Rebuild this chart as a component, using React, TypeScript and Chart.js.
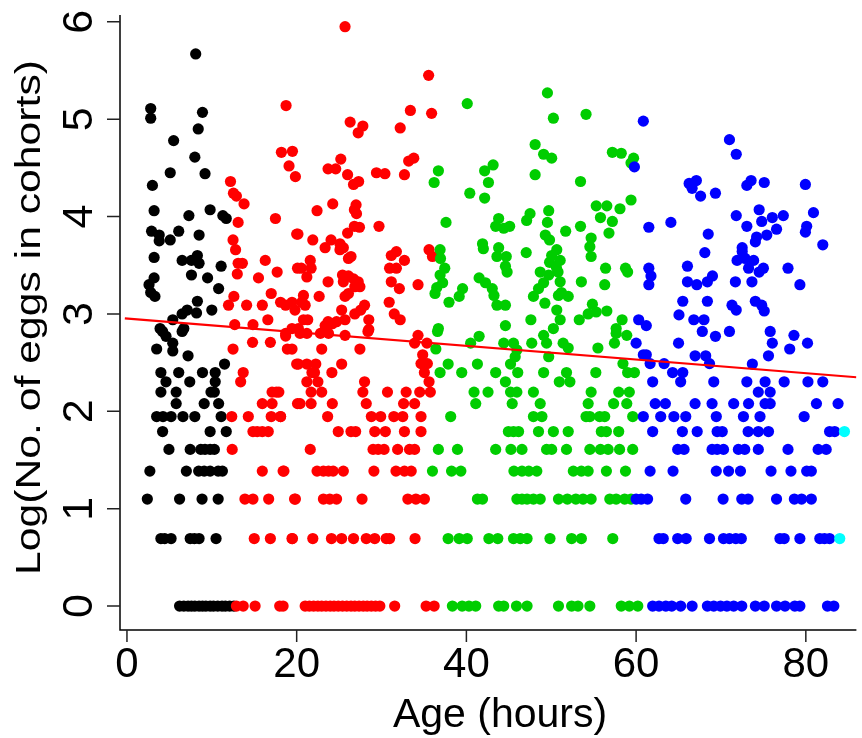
import React, { useEffect, useRef } from 'react';
import { Chart, registerables } from 'chart.js';

Chart.register(...registerables);

// ---- Axis text ----
const X_TICKS = [0, 20, 40, 60, 80];
const Y_TICKS = [0, 1, 2, 3, 4, 5, 6];
const X_TITLE = 'Age (hours)';
const Y_TITLE = 'Log(No. of eggs in cohorts)';

// ---- Regression line (end points) ----
const REG_X = [-0.25, 85.96];
const REG_Y = [2.955, 2.35];

// ---- Points: [age in hours, log(no. of eggs)] ----
const blackPoints: [number, number][] = [
  [8.1, 5.67], [2.8, 5.11], [2.8, 5.01], [8.9, 5.07], [8.4, 4.9], [5.5, 4.78], [8.0, 4.61], [5.1, 4.45],
  [9.2, 4.44], [3.0, 4.32], [3.2, 4.06], [7.3, 4.01], [9.8, 4.07], [11.3, 4.01], [11.7, 3.98], [2.9, 3.85],
  [3.8, 3.81], [3.8, 3.75], [5.1, 3.76], [6.1, 3.85], [8.5, 3.81], [3.2, 3.58], [6.5, 3.55], [7.6, 3.55],
  [8.3, 3.6], [8.5, 3.52], [11.1, 3.49], [7.6, 3.4], [9.5, 3.37], [3.2, 3.37], [2.6, 3.3], [2.8, 3.22],
  [3.3, 3.18], [10.8, 3.26], [8.3, 3.13], [10.0, 3.04], [8.2, 3.01], [6.5, 3.0], [7.1, 3.04], [5.4, 2.94],
  [3.9, 2.85], [6.7, 2.85], [4.2, 2.82], [4.6, 2.77], [6.5, 2.82], [5.4, 2.7], [3.5, 2.64], [5.4, 2.62],
  [7.2, 2.57], [11.5, 2.485], [4.0, 2.398], [6.1, 2.398], [8.9, 2.398], [10.4, 2.398], [4.6, 2.303],
  [7.4, 2.303], [10.4, 2.303], [4.0, 2.197], [5.8, 2.197], [9.9, 2.197], [10.3, 2.197], [5.8, 2.079],
  [9.1, 2.079], [10.8, 2.079],
  [3.5, 1.946], [4.25, 1.946], [5.2, 1.946], [6.6, 1.946], [8.0, 1.946], [11.1, 1.946],
  [4.2, 1.792], [9.8, 1.792], [11.7, 1.792],
  [4.95, 1.609], [7.45, 1.609], [8.7, 1.609], [9.2, 1.609], [9.8, 1.609], [10.3, 1.609],
  [2.7, 1.386], [7.0, 1.386], [8.45, 1.386], [9.1, 1.386], [9.8, 1.386], [10.75, 1.386], [11.25, 1.386],
  [2.4, 1.099], [6.2, 1.099], [8.85, 1.099], [10.75, 1.099],
  [4.0, 0.693], [4.45, 0.693], [5.2, 0.693], [7.45, 0.693], [7.95, 0.693], [8.5, 0.693], [10.5, 0.693],
  [6.2, 0], [6.7, 0], [7.2, 0], [7.6, 0], [8.0, 0], [8.5, 0], [8.9, 0], [9.3, 0], [9.8, 0], [10.2, 0],
  [10.7, 0], [11.2, 0], [11.6, 0], [12.1, 0], [12.6, 0],
];

const redPoints: [number, number][] = [
  [12.2, 4.36], [12.55, 4.24], [12.9, 4.21], [13.8, 4.13], [18.75, 5.14], [18.2, 4.66], [19.5, 4.67],
  [19.1, 4.52], [19.85, 4.41], [13.1, 3.94], [17.5, 3.98], [20.0, 3.82], [12.5, 3.76], [12.8, 3.66],
  [13.1, 3.52], [13.6, 3.52], [13.0, 3.41], [16.3, 3.55], [17.7, 3.43], [15.5, 3.37], [20.1, 3.47],
  [17.0, 3.21], [12.6, 3.18], [11.97, 3.09], [14.1, 3.09], [15.95, 3.09], [18.1, 3.12], [18.7, 3.09],
  [19.45, 3.12], [19.8, 3.04], [12.7, 2.89], [14.85, 2.89], [16.6, 2.94],
  [14.8, 2.708], [16.9, 2.708], [18.7, 2.773], [18.9, 2.639], [19.45, 2.639], [12.5, 2.639], [20.0, 2.485],
  [13.7, 2.398], [13.4, 2.303], [17.1, 2.197], [17.6, 2.197], [15.95, 2.079], [17.1, 2.079], [20.1, 2.079],
  [12.35, 1.946], [14.3, 1.946], [17.0, 1.946], [18.1, 1.946],
  [14.85, 1.792], [15.35, 1.792], [15.95, 1.792], [16.65, 1.792],
  [12.4, 1.609], [15.95, 1.386], [18.4, 1.386],
  [13.9, 1.099], [14.85, 1.099], [16.7, 1.099], [19.75, 1.099],
  [15.0, 0.693], [16.9, 0.693], [19.45, 0.693],
  [12.9, 0], [13.7, 0], [15.1, 0], [18.0, 0], [18.4, 0],
  [25.7, 5.95], [35.55, 5.45], [33.4, 5.09], [35.9, 5.06], [26.3, 4.97], [27.8, 4.93], [27.25, 4.86],
  [32.2, 4.91], [23.7, 4.49], [24.6, 4.49], [25.2, 4.59], [26.0, 4.43], [27.3, 4.36], [26.7, 4.33],
  [29.4, 4.45], [30.4, 4.44], [32.7, 4.43], [33.2, 4.57], [33.8, 4.6], [24.25, 4.13], [22.4, 4.06],
  [27.0, 4.12], [26.8, 4.07], [27.05, 4.03], [26.8, 3.9], [27.4, 3.89], [29.7, 3.9], [20.15, 3.82],
  [21.9, 3.76], [26.0, 3.83], [23.35, 3.68], [24.05, 3.76], [25.1, 3.72], [25.5, 3.68], [25.1, 3.66],
  [26.4, 3.59], [26.1, 3.57], [21.6, 3.55], [21.7, 3.47], [20.55, 3.47], [21.2, 3.38], [23.7, 3.33],
  [25.4, 3.4], [26.1, 3.39], [27.25, 3.33], [25.5, 3.33], [26.7, 3.36], [27.45, 3.28], [26.85, 3.28],
  [22.65, 3.18], [20.8, 3.19], [21.0, 3.09], [20.6, 3.12], [26.1, 3.21], [25.7, 3.18], [25.3, 3.04],
  [25.7, 2.94], [26.85, 3.0], [28.0, 3.09], [27.55, 3.04], [28.5, 2.94], [31.15, 3.6], [31.75, 3.64],
  [32.7, 3.55], [30.95, 3.47], [31.75, 3.47], [31.15, 3.33], [32.1, 3.26], [34.3, 3.3], [35.6, 3.66],
  [36.0, 3.59], [30.9, 3.12], [31.5, 3.0], [32.2, 2.94], [20.8, 2.94], [21.3, 2.94], [23.7, 2.92],
  [24.2, 2.9], [24.7, 2.92], [23.35, 2.88], [28.5, 2.84], [19.45, 2.85], [20.2, 2.85],
  [18.7, 2.8], [20.4, 2.8], [21.2, 2.8], [22.8, 2.8], [23.75, 2.8], [25.7, 2.78], [28.4, 2.82],
  [34.3, 2.78], [33.9, 2.7], [35.35, 2.7], [22.95, 2.639], [27.45, 2.639], [20.2, 2.485], [21.2, 2.485],
  [22.25, 2.485], [25.3, 2.485], [21.8, 2.398], [22.1, 2.398], [24.15, 2.398], [21.2, 2.303],
  [22.5, 2.303], [28.0, 2.303], [34.85, 2.58], [34.65, 2.49], [35.4, 2.49], [35.05, 2.398], [35.6, 2.303],
  [17.9, 2.197], [21.7, 2.197], [22.95, 2.197], [27.8, 2.197], [30.7, 2.197], [32.9, 2.197], [34.5, 2.197],
  [35.75, 2.197],
  [20.4, 2.079], [21.7, 2.079], [24.2, 2.079], [28.2, 2.079], [32.6, 2.079], [33.9, 2.079],
  [18.1, 1.946], [23.65, 1.946], [28.8, 1.946], [29.9, 1.946], [31.45, 1.946], [32.5, 1.946], [34.65, 1.946],
  [24.9, 1.792], [26.4, 1.792], [26.95, 1.792], [29.2, 1.792], [30.45, 1.792], [32.7, 1.792], [34.65, 1.792],
  [21.6, 1.609], [29.0, 1.609], [29.6, 1.609], [30.3, 1.609], [31.9, 1.609], [33.3, 1.609], [33.9, 1.609],
  [18.5, 1.386], [22.4, 1.386], [23.15, 1.386], [23.75, 1.386], [24.3, 1.386], [25.5, 1.386], [29.1, 1.386],
  [31.7, 1.386], [32.7, 1.386], [33.5, 1.386],
  [19.85, 1.099], [23.15, 1.099], [23.9, 1.099], [24.7, 1.099], [27.7, 1.099], [33.1, 1.099], [34.05, 1.099],
  [35.05, 1.099],
  [19.5, 0.693], [21.9, 0.693], [24.1, 0.693], [25.3, 0.693], [26.7, 0.693], [28.2, 0.693], [29.2, 0.693],
  [30.55, 0.693], [30.95, 0.693], [33.95, 0.693],
  [21.0, 0], [21.5, 0], [22.0, 0], [22.5, 0], [22.95, 0], [23.45, 0], [23.95, 0], [24.4, 0], [24.9, 0],
  [25.4, 0], [25.9, 0], [26.4, 0], [26.85, 0], [27.35, 0], [27.85, 0], [28.3, 0], [28.8, 0], [29.3, 0],
  [29.8, 0], [31.55, 0], [35.25, 0], [36.2, 0],
];

const greenPoints: [number, number][] = [
  [40.1, 5.16], [49.55, 5.27], [50.25, 5.01], [48.1, 4.74], [49.1, 4.64], [50.05, 4.6], [48.1, 4.43],
  [36.7, 4.47], [36.2, 4.35], [42.15, 4.47], [43.15, 4.53], [42.6, 4.35], [40.4, 4.24], [42.15, 4.19],
  [37.6, 3.94], [43.8, 3.98], [43.45, 3.9], [44.4, 3.88], [45.1, 3.9], [47.5, 4.03], [47.1, 3.96],
  [49.7, 4.06], [49.55, 3.94], [51.7, 3.85], [49.3, 3.81], [49.8, 3.76],
  [36.9, 3.66], [36.95, 3.57], [37.45, 3.47], [36.9, 3.4], [37.2, 3.32], [36.5, 3.27], [36.3, 3.21],
  [39.55, 3.26], [39.15, 3.18], [37.95, 3.12], [41.9, 3.72], [42.0, 3.67], [43.8, 3.68], [43.6, 3.59],
  [44.7, 3.59], [44.6, 3.49], [44.8, 3.43], [47.05, 3.63], [50.65, 3.66], [50.05, 3.6], [49.8, 3.53],
  [51.05, 3.55], [50.6, 3.48], [50.8, 3.43], [41.5, 3.37], [42.25, 3.32], [43.05, 3.26], [43.25, 3.19],
  [43.6, 3.09], [44.6, 3.09], [48.7, 3.43], [49.7, 3.4], [49.1, 3.32], [48.5, 3.26], [47.9, 3.18],
  [49.25, 3.11], [51.05, 3.33], [50.85, 3.19], [52.0, 3.18], [50.65, 3.04], [51.05, 2.94], [50.25, 2.85],
  [47.6, 2.94], [44.6, 2.88], [36.7, 2.85],
  [54.1, 5.05], [57.2, 4.66], [58.25, 4.65], [59.7, 4.6], [59.4, 4.55], [53.45, 4.36], [55.3, 4.11],
  [56.55, 4.11], [58.1, 4.08], [59.4, 4.17], [55.8, 3.99], [57.2, 3.95], [53.45, 3.9], [56.8, 3.83],
  [54.7, 3.78], [54.55, 3.69], [54.7, 3.59], [56.4, 3.47], [58.75, 3.47], [59.0, 3.43], [53.55, 3.33],
  [56.3, 3.3], [51.2, 3.22], [54.85, 3.1], [54.35, 3.0], [55.3, 3.02], [56.55, 3.03], [53.3, 2.94],
  [58.35, 2.94], [57.65, 2.85],
  [57.65, 2.8], [58.9, 2.78], [57.45, 2.7], [51.4, 2.7], [52.0, 2.65], [55.5, 2.65], [58.45, 2.49],
  [51.8, 2.398], [52.2, 2.303], [55.25, 2.398], [50.95, 2.303], [59.0, 2.398], [59.8, 2.398],
  [54.7, 2.197], [57.95, 2.197], [59.2, 2.197],
  [54.35, 2.079], [57.35, 2.079], [58.9, 2.079],
  [54.1, 1.946], [54.55, 1.946], [55.7, 1.946], [56.3, 1.946], [59.6, 1.946],
  [52.0, 1.792], [55.9, 1.792], [56.5, 1.792], [57.95, 1.792],
  [51.8, 1.609], [54.55, 1.609], [55.8, 1.609], [56.7, 1.609], [58.05, 1.609], [59.6, 1.609],
  [52.6, 1.386], [53.55, 1.386], [54.35, 1.386], [56.5, 1.386], [58.75, 1.386],
  [50.85, 1.099], [51.9, 1.099], [52.9, 1.099], [53.75, 1.099], [54.7, 1.099], [56.9, 1.099], [57.65, 1.099],
  [58.65, 1.099], [59.4, 1.099],
  [52.4, 0.693], [53.55, 0.693], [57.25, 0.693],
  [50.85, 0], [52.4, 0], [53.15, 0], [54.55, 0], [58.25, 0], [59.2, 0], [60.2, 0],
  [36.6, 2.82], [36.4, 2.64], [40.5, 2.7], [41.5, 2.77], [44.4, 2.7], [45.55, 2.7], [45.95, 2.63],
  [47.7, 2.7], [49.1, 2.78], [49.45, 2.7], [49.7, 2.56], [45.2, 2.485], [45.75, 2.56], [37.85, 2.485],
  [36.9, 2.398], [39.45, 2.398], [41.3, 2.485], [43.45, 2.398], [44.6, 2.303], [46.05, 2.398], [49.1, 2.398],
  [40.9, 2.197], [42.55, 2.197], [45.2, 2.197], [45.95, 2.197], [47.9, 2.197],
  [41.1, 2.079], [45.4, 2.079], [48.7, 2.079],
  [38.15, 1.946], [47.9, 1.946], [48.9, 1.946],
  [44.95, 1.792], [45.55, 1.792], [46.15, 1.792], [48.5, 1.792], [50.25, 1.792],
  [36.7, 1.609], [38.95, 1.609], [43.45, 1.609], [45.25, 1.609], [46.55, 1.609], [49.45, 1.609], [50.05, 1.609],
  [36.0, 1.386], [38.25, 1.386], [39.35, 1.386], [45.6, 1.386], [46.55, 1.386], [47.35, 1.386], [48.3, 1.386],
  [41.3, 1.099], [41.9, 1.099], [45.95, 1.099], [46.55, 1.099], [47.15, 1.099], [47.9, 1.099], [48.7, 1.099],
  [37.85, 0.693], [39.15, 0.693], [40.1, 0.693], [42.65, 0.693], [43.7, 0.693], [45.55, 0.693], [46.35, 0.693],
  [47.15, 0.693], [49.85, 0.693],
  [38.35, 0], [39.5, 0], [40.3, 0], [41.1, 0], [43.8, 0], [44.4, 0], [45.9, 0], [47.15, 0],
];

const bluePoints: [number, number][] = [
  [60.85, 4.98], [71.0, 4.79], [71.8, 4.64], [59.8, 4.51], [66.25, 4.34], [67.1, 4.37], [66.6, 4.29],
  [67.6, 4.21], [69.35, 4.24], [73.05, 4.32], [73.55, 4.37], [75.1, 4.35], [79.95, 4.33], [71.8, 4.01],
  [73.05, 3.9], [74.5, 4.07], [74.8, 3.95], [76.05, 3.99], [77.35, 4.01], [76.55, 3.87], [75.4, 3.81],
  [74.2, 3.79], [74.05, 3.74], [72.5, 3.68], [72.5, 3.64], [80.9, 4.04], [80.1, 3.9], [79.95, 3.84],
  [82.0, 3.71], [61.5, 3.89], [64.1, 3.94], [68.5, 3.82], [68.1, 3.63], [71.9, 3.55], [72.85, 3.57],
  [73.85, 3.55], [73.25, 3.47], [74.5, 3.43], [75.0, 3.47], [77.9, 3.47], [79.3, 3.3], [61.5, 3.47],
  [61.75, 3.39], [61.5, 3.3], [66.05, 3.49], [66.05, 3.33], [67.15, 3.3], [68.4, 3.33], [69.0, 3.39],
  [71.7, 3.33], [73.65, 3.33], [65.5, 3.13], [65.05, 2.99], [66.8, 2.94], [68.0, 2.94], [68.4, 3.13],
  [71.3, 3.09], [71.8, 3.04], [74.05, 3.13], [74.8, 3.09], [75.1, 3.03], [60.3, 2.94], [61.2, 2.88],
  [67.8, 2.82], [69.35, 2.77], [71.0, 2.82], [75.8, 2.82], [76.05, 2.7], [78.6, 2.78], [80.2, 2.7],
  [78.1, 2.64], [75.6, 2.57], [60.0, 2.7], [65.0, 2.7], [60.85, 2.58], [61.2, 2.58], [61.65, 2.49],
  [63.3, 2.49], [64.3, 2.398], [65.5, 2.398], [65.25, 2.303], [61.95, 2.303], [66.95, 2.57], [68.2, 2.57],
  [68.65, 2.49], [73.7, 2.485],
  [69.15, 2.303], [73.05, 2.303], [75.2, 2.303], [77.45, 2.303], [80.25, 2.303], [82.0, 2.303],
  [74.4, 2.197], [75.8, 2.197],
  [62.25, 2.079], [63.45, 2.079], [66.95, 2.079], [68.95, 2.079], [71.5, 2.079], [73.25, 2.079],
  [75.2, 2.079], [75.8, 2.079], [81.25, 2.079], [83.8, 2.079],
  [60.85, 1.946], [62.9, 1.946], [64.45, 1.946], [65.85, 1.946], [69.45, 1.946], [72.65, 1.946],
  [74.6, 1.946], [79.8, 1.946],
  [61.95, 1.792], [65.45, 1.792], [67.2, 1.792], [69.55, 1.792], [70.15, 1.792], [73.2, 1.792],
  [74.4, 1.792], [75.6, 1.792], [82.8, 1.792], [83.4, 1.792],
  [64.9, 1.609], [65.65, 1.609], [68.95, 1.609], [69.55, 1.609], [70.3, 1.609], [72.05, 1.609],
  [72.8, 1.609], [74.4, 1.609], [77.9, 1.609], [81.45, 1.609], [82.4, 1.609],
  [61.65, 1.386], [64.35, 1.386], [69.45, 1.386], [70.9, 1.386], [72.3, 1.386], [75.9, 1.386],
  [78.25, 1.386], [80.1, 1.386], [80.65, 1.386],
  [60.0, 1.099], [60.6, 1.099], [61.35, 1.099], [65.85, 1.099], [70.25, 1.099], [72.45, 1.099],
  [73.2, 1.099], [76.55, 1.099], [78.65, 1.099], [79.5, 1.099], [80.65, 1.099],
  [62.7, 0.693], [63.2, 0.693], [64.9, 0.693], [65.9, 0.693], [68.65, 0.693], [70.3, 0.693], [71.0, 0.693],
  [71.75, 0.693], [72.4, 0.693], [76.95, 0.693], [77.45, 0.693], [79.3, 0.693], [81.65, 0.693],
  [82.2, 0.693], [82.8, 0.693],
  [61.95, 0], [62.7, 0], [63.5, 0], [64.2, 0], [65.25, 0], [66.6, 0], [68.4, 0], [69.15, 0], [69.95, 0],
  [70.7, 0], [71.5, 0], [72.45, 0], [74.05, 0], [75.1, 0], [76.55, 0], [77.55, 0], [78.7, 0], [79.3, 0],
  [82.55, 0], [83.3, 0],
];

const cyanPoints: [number, number][] = [[84.0, 0.693], [84.55, 1.792]];

// ---- Colours ----
const COLORS = { black: '#000000', red: '#FF0000', green: '#00CD00', blue: '#0000FF', cyan: '#00FFFF' };

const toXY = (pts: [number, number][]) => pts.map(([x, y]) => ({ x, y }));

const FONT = '"Liberation Sans", Arial, Helvetica, sans-serif';

const rAxesPlugin = {
  id: 'rAxes',
  afterDraw(chart: any) {
    const { ctx, chartArea, scales } = chart;
    const xs = scales.x;
    const ys = scales.y;
    const left = chartArea.left;
    const bottom = chartArea.bottom;
    ctx.save();
    // L-shaped axes
    ctx.strokeStyle = '#000';
    ctx.lineWidth = 1.5;
    ctx.beginPath();
    ctx.moveTo(left, chartArea.top);
    ctx.lineTo(left, bottom);
    ctx.lineTo(chartArea.right, bottom);
    ctx.stroke();
    // tick marks
    ctx.strokeStyle = '#222';
    ctx.lineWidth = 1.5;
    ctx.beginPath();
    for (const v of X_TICKS) {
      const p = xs.getPixelForValue(v);
      ctx.moveTo(p, bottom);
      ctx.lineTo(p, bottom + 12);
    }
    for (const v of Y_TICKS) {
      const p = ys.getPixelForValue(v);
      ctx.moveTo(left, p);
      ctx.lineTo(left - 13, p);
    }
    ctx.stroke();
    // x tick labels
    ctx.fillStyle = '#000';
    ctx.textAlign = 'center';
    ctx.textBaseline = 'alphabetic';
    ctx.font = `42px ${FONT}`;
    for (const v of X_TICKS) {
      ctx.fillText(String(v), xs.getPixelForValue(v), bottom + 47);
    }
    // y tick labels (rotated)
    ctx.font = `43px ${FONT}`;
    for (const v of Y_TICKS) {
      ctx.save();
      ctx.translate(left - 28, ys.getPixelForValue(v));
      ctx.rotate(-Math.PI / 2);
      ctx.fillText(String(v), 0, 0);
      ctx.restore();
    }
    // x title
    ctx.font = `41px ${FONT}`;
    ctx.fillText(X_TITLE, 500, bottom + 97);
    // y title (rotated)
    ctx.save();
    ctx.font = `35px ${FONT}`;
    ctx.translate(40, 317.5);
    ctx.rotate(-Math.PI / 2);
    const w = ctx.measureText(Y_TITLE).width;
    ctx.scale(515 / w, 1);
    ctx.fillText(Y_TITLE, 0, 0);
    ctx.restore();
    ctx.restore();
  },
};

export default function App() {
  const canvasRef = useRef<HTMLCanvasElement | null>(null);

  useEffect(() => {
    const canvas = canvasRef.current;
    if (!canvas) return;
    const pointDs = (data: [number, number][], color: string, order: number) => ({
      type: 'scatter' as const,
      data: toXY(data),
      backgroundColor: color,
      borderColor: color,
      borderWidth: 0,
      pointRadius: 5.6,
      pointHoverRadius: 5.6,
      showLine: false,
      order,
    });
    const chart = new Chart(canvas, {
      type: 'scatter',
      data: {
        datasets: [
          {
            type: 'line',
            data: REG_X.map((x, i) => ({ x, y: REG_Y[i] })),
            borderColor: COLORS.red,
            borderWidth: 2.2,
            pointRadius: 0,
            fill: false,
            order: 0,
          } as any,
          pointDs(cyanPoints, COLORS.cyan, 1),
          pointDs(bluePoints, COLORS.blue, 2),
          pointDs(greenPoints, COLORS.green, 3),
          pointDs(redPoints, COLORS.red, 4),
          pointDs(blackPoints, COLORS.black, 5),
        ],
      },
      options: {
        animation: false,
        responsive: false,
        devicePixelRatio: 1,
        layout: { padding: { left: 120, top: 15, right: 0, bottom: 108 } },
        plugins: { legend: { display: false }, tooltip: { enabled: false } },
        events: [],
        scales: {
          x: { type: 'linear', min: -0.82, max: 85.96, display: false },
          y: { type: 'linear', min: -0.246, max: 6.07, display: false },
        },
      },
      plugins: [rAxesPlugin],
    });
    return () => chart.destroy();
  }, []);

  return (
    <div style={{ position: 'absolute', left: 0, top: 0, width: 862, height: 738, background: '#fff' }}>
      <canvas ref={canvasRef} width={862} height={738} style={{ display: 'block' }} />
    </div>
  );
}
